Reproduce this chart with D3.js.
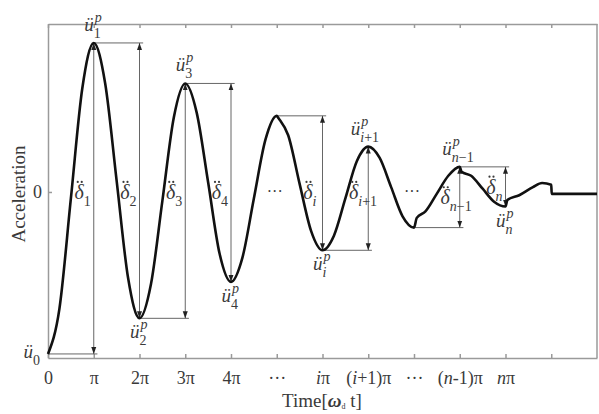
<!DOCTYPE html>
<html>
<head>
<meta charset="utf-8">
<script src="https://cdn.jsdelivr.net/npm/d3@7"></script>
<style>
  body { margin: 0; background: #fff; }
  svg { display: block; }
  text { fill: #3a3a3a; font-family: "Liberation Serif", "Times New Roman", serif; }
</style>
</head>
<body>
<svg id="chart" width="599" height="414"></svg>
<script>
// time in multiples of pi, acceleration scaled so that u0 = -1
let waveT = [0, 0.25, 0.5, 0.75, 1, 1.25, 1.5, 1.75, 2, 2.25, 2.5, 2.75, 3, 3.25, 3.5, 3.75, 4, 4.25, 4.5, 4.75, 5,
    5.04, 5.25, 5.5, 5.75, 6, 6.25, 6.5, 6.75, 7, 7.25, 7.5, 7.75, 8,
    8.06, 8.25, 8.5, 8.75, 9, 9.04, 9.25, 9.5, 9.75, 10,
    10.04, 10.3, 10.6, 10.8, 11, 11.01, 12];
let waveA = [-1, -0.72, -0.04, 0.64, 0.92, 0.67, 0.07, -0.53, -0.78, -0.57, -0.055, 0.46, 0.67, 0.49, 0.06, -0.38, -0.555, -0.405, -0.04, 0.32, 0.47,
    0.455, 0.35, 0.05, -0.24, -0.36, -0.27, -0.04, 0.19, 0.28, 0.21, 0.03, -0.15, -0.22,
    -0.16, -0.12, -0.01, 0.1, 0.155, 0.125, 0.1, 0.02, -0.06, -0.09,
    -0.05, -0.02, 0.03, 0.055, 0.045, -0.012, -0.012];

// peaks and troughs
let extremeT = [0, 1, 2, 3, 4, 5, 6, 7, 8, 9, 10];
let extremeA = [-1, 0.92, -0.78, 0.67, -0.555, 0.47, -0.36, 0.28, -0.22, 0.155, -0.09];
let peakSubs = ["0", "1", "2", "3", "4", "", "*i*", "*i*+1", "", "*n*\u22121", "*n*"];

// delta arrows between extreme k-1 and extreme k
let deltaSteps = [1, 2, 3, 4, 6, 7, 9, 10];
let deltaSubs = ["", "1", "2", "3", "4", "", "*i*", "*i*+1", "", "*n*\u22121", "*n*"];
let dotSteps = [5, 8];

let xTicks = [0, 1, 2, 3, 4, 5, 6, 7, 8, 9, 10, 11];
let xTickLabels = ["0", "\u03c0", "2\u03c0", "3\u03c0", "4\u03c0", "\u00b7\u00b7\u00b7", "*i*\u03c0", "(*i*+1)\u03c0",
    "\u00b7\u00b7\u00b7", "(*n*-1)\u03c0", "*n*\u03c0", ""];

let svg = d3.select("#chart");
let x = d3.scaleLinear().domain([0, 12]).range([48, 597]);
let y = d3.scaleLinear().domain([-1.025, 1.037]).range([358, 24]);

// write "*a*" parts in italics
function rich(sel, str) {
    str.split("*").forEach(function (part, i) {
        if (part === "") return;
        sel.append("tspan").attr("font-style", i % 2 ? "italic" : null).text(part);
    });
}

svg.append("defs").append("marker")
    .attr("id", "arrow")
    .attr("viewBox", "0 -3 7 6")
    .attr("refX", 7)
    .attr("refY", 0)
    .attr("markerWidth", 7)
    .attr("markerHeight", 6)
    .attr("markerUnits", "userSpaceOnUse")
    .attr("orient", "auto-start-reverse")
    .append("path")
    .attr("d", "M0,-2.5L7,0L0,2.5Z")
    .attr("fill", "#222");

// axes, ticks pointing inside
let axisColor = "#9a9a9a";
let bottom = svg.append("g")
    .attr("transform", "translate(0," + y.range()[0] + ")")
    .call(d3.axisBottom(x).tickValues(xTicks).tickSizeInner(-4).tickSizeOuter(0).tickPadding(9)
        .tickFormat(function () { return ""; }));
bottom.selectAll(".tick text").each(function (d, i) {
    rich(d3.select(this), xTickLabels[i]);
}).attr("font-size", 18).attr("dy", "0.95em")
    .attr("font-family", "Liberation Serif").attr("fill", "#3a3a3a");

svg.append("g")
    .attr("transform", "translate(0," + y.range()[1] + ")")
    .call(d3.axisTop(x).tickValues(xTicks).tickSizeInner(-4).tickSizeOuter(0).tickFormat(""));

svg.append("g")
    .attr("transform", "translate(" + x.range()[0] + ",0)")
    .call(d3.axisLeft(y).tickValues([0]).tickFormat(d3.format("d")).tickSizeInner(-4).tickSizeOuter(0).tickPadding(6))
    .selectAll(".tick text").attr("font-size", 18).attr("font-family", "Liberation Serif")
    .attr("fill", "#3a3a3a");

svg.append("line")
    .attr("x1", x.range()[1]).attr("x2", x.range()[1])
    .attr("y1", y.range()[0]).attr("y2", y.range()[1]);

svg.selectAll(".domain, .tick line, line").attr("stroke", axisColor).attr("stroke-width", 1.5);

// axis titles
let title = svg.append("text")
    .attr("x", 322).attr("y", 407)
    .attr("text-anchor", "middle")
    .attr("font-size", 19);
title.append("tspan").text("Time[");
title.append("tspan").attr("font-weight", "bold").attr("font-style", "italic").text("\u03c9");
title.append("tspan").attr("font-size", 8).attr("dy", 2).text("d");
title.append("tspan").attr("dy", -2).text(" t]");

svg.append("text")
    .attr("transform", "translate(25,194) rotate(-90)")
    .attr("text-anchor", "middle")
    .attr("font-family", "Liberation Sans, Arial, sans-serif")
    .attr("font-size", 19)
    .text("Acceleration");

// delta guide lines
let guides = svg.append("g").attr("stroke", "#666").attr("stroke-width", 1).attr("fill", "none");
deltaSteps.forEach(function (k) {
    let from = extremeA[k - 1];
    let to = extremeA[k];
    guides.append("line")
        .attr("x1", x(extremeT[k - 1])).attr("x2", x(extremeT[k] + 0.08))
        .attr("y1", y(from)).attr("y2", y(from));
    guides.append("line")
        .attr("x1", x(extremeT[k])).attr("x2", x(extremeT[k]))
        .attr("y1", y(to)).attr("y2", y(from))
        .attr("marker-start", "url(#arrow)")
        .attr("marker-end", "url(#arrow)");
});

// the response curve
let line = d3.line()
    .x(function (d, i) { return x(waveT[i]); })
    .y(function (d, i) { return y(waveA[i]); })
    .curve(d3.curveMonotoneX);

svg.append("path")
    .attr("d", line(waveT))
    .attr("fill", "none")
    .attr("stroke", "#111")
    .attr("stroke-width", 2.6)
    .attr("stroke-linejoin", "round");

// delta labels, the two dots drawn above the glyph
deltaSteps.forEach(function (k) {
    let mid = k < 9 ? 0 : (extremeA[k - 1] + extremeA[k]) / 2;
    let px = x(extremeT[k]);
    let py = y(mid) + 7;
    svg.append("text")
        .attr("x", px - 10).attr("y", py)
        .attr("text-anchor", "end")
        .attr("font-size", 20)
        .attr("font-style", "italic")
        .text("\u03b4");
    [-16, -12].forEach(function (dx) {
        svg.append("circle")
            .attr("cx", px + dx).attr("cy", py - 17)
            .attr("r", 1.1)
            .attr("fill", "#3a3a3a");
    });
    let sub = svg.append("text")
        .attr("x", px - 10).attr("y", py + 7)
        .attr("font-size", 14);
    rich(sub, deltaSubs[k]);
});
dotSteps.forEach(function (k) {
    svg.append("text")
        .attr("x", x(extremeT[k]) - 2).attr("y", y(0) + 5)
        .attr("text-anchor", "middle")
        .attr("font-size", 16)
        .text("\u00b7\u00b7\u00b7");
});

// extreme labels
extremeT.forEach(function (t, k) {
    if (peakSubs[k] === "") return;
    let a = extremeA[k];
    let endX, baseY;
    if (k === 0) {
        endX = x(t) - 15;
        baseY = y(a) + 4;
    } else {
        endX = x(t) - (peakSubs[k].length > 3 ? 8 : 0);
        baseY = a > 0 ? y(a) - 12 : y(a) + 20;
    }
    svg.append("text")
        .attr("x", endX).attr("y", baseY)
        .attr("text-anchor", "end")
        .attr("font-size", 19)
        .attr("font-style", "italic")
        .text("\u00fc");
    if (k > 0) {
        svg.append("text")
            .attr("x", endX + 1).attr("y", baseY - 9)
            .attr("font-size", 14)
            .attr("font-style", "italic")
            .text("p");
    }
    let sub = svg.append("text")
        .attr("x", endX).attr("y", baseY + 7)
        .attr("font-size", 14);
    rich(sub, peakSubs[k]);
});
</script>
</body>
</html>
